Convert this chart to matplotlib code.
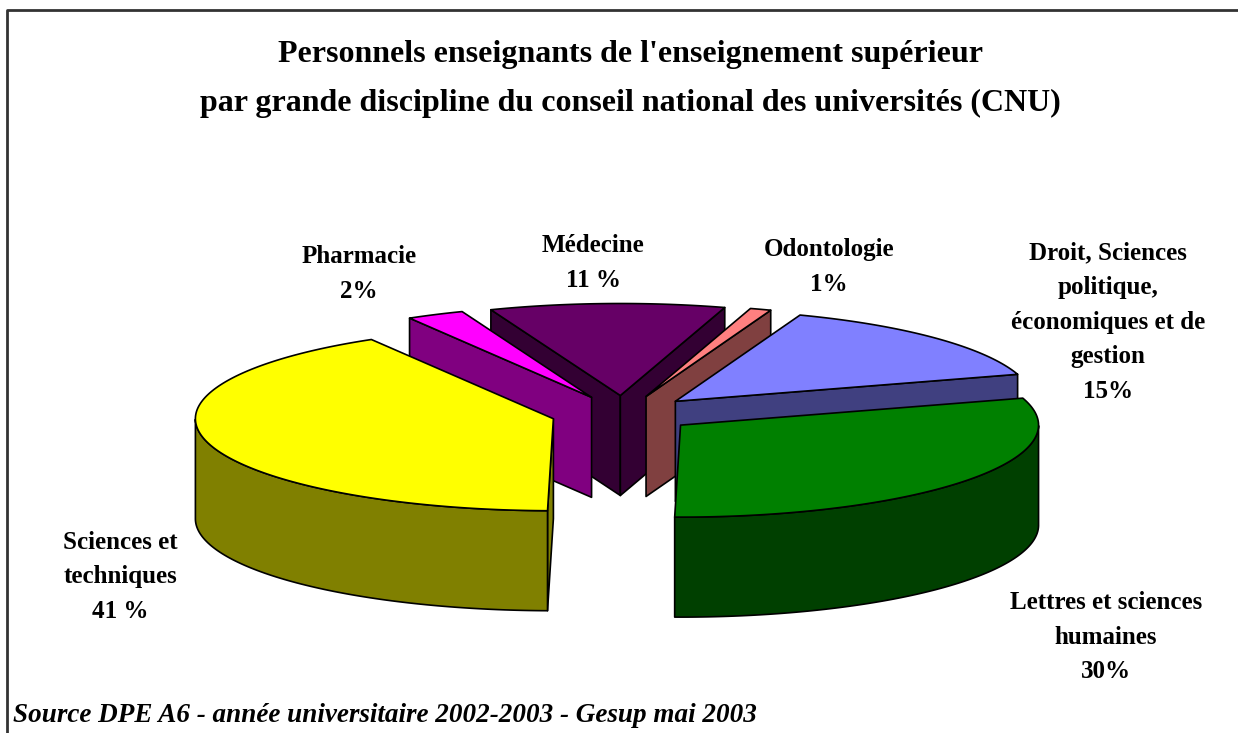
import numpy as np
import matplotlib
matplotlib.use('Agg')
import matplotlib.pyplot as plt

# slices, clockwise, starting from the top of the pie
# shares are read off the drawn angles, the labels carry the rounded ones
names = ['Médecine', 'Odontologie', 'Droit, Sciences\npolitique,\néconomiques et de\ngestion',
         'Lettres et sciences\nhumaines', 'Sciences et\ntechniques', 'Pharmacie']
shares = [10.6, 0.95, 14.6, 30, 41.25, 2.6]
pct_labels = ['11 %', '1%', '15%', '30%', '41 %', '2%']
top_colors = ['#660066', '#FF8080', '#8080FF', '#008000', '#FFFF00', '#FF00FF']
side_colors = ['#330033', '#804040', '#404080', '#004000', '#808000', '#800080']
label_pos = [(593, 263), (829, 267), (1108, 322), (1106, 637), (120, 577), (359, 274)]

title = "Personnels enseignants de l'enseignement supérieur\npar grande discipline du conseil national des universités (CNU)"
source = 'Source DPE A6 - année universitaire 2002-2003 - Gesup mai 2003'

# pie geometry in pixels
cx, cy = 623, 414
rx, ry = 358, 92
depth = 100
explode = 72
start = -21.2
serif = 'Liberation Serif'

fig = plt.figure(figsize=(12.38, 7.33), dpi=100)
ax = fig.add_axes([0, 0, 1, 1])
ax.set_xlim(0, 1238)
ax.set_ylim(733, 0)
ax.axis('off')

# frame: only top and left show in the picture
ax.plot([1238, 7, 7], [10, 10, 733], color='#333333', lw=2, zorder=1)


def vec(a):
    a = np.radians(a)
    return np.array([np.sin(a) * rx, -np.cos(a) * ry])


def draw_slice(a0, a1, top_c, side_c, z):
    mid = (a0 + a1) / 2
    apex = np.array([cx, cy]) + vec(mid) * explode / rx
    down = np.array([0, depth])
    m = vec(mid)
    kw = dict(edgecolor='black', lw=1.2, joinstyle='round', zorder=z)
    # cut faces first, the ones the viewer can see
    for a in (a0, a1):
        e = vec(a)
        if e[0] * (e[0] * m[1] - e[1] * m[0]) < 0:
            p = apex + e
            ax.fill(*np.array([apex, p, p + down, apex + down]).T, facecolor=side_c, **kw)
    # outer rim, lower half of the ellipse only
    arc = np.linspace(a0, a1, 150)
    front = arc[(arc > 90) & (arc < 270)]
    if len(front):
        rim = np.array([apex + vec(a) for a in front])
        ax.fill(*np.vstack([rim, (rim + down)[::-1]]).T, facecolor=side_c, **kw)
    edge = np.array([apex] + [apex + vec(a) for a in arc])
    ax.fill(*edge.T, facecolor=top_c, **kw)


angles = start + np.cumsum([0] + shares) * 3.6
# back slices first, the two big front ones last
order = [0, 5, 1, 2, 3, 4]
for z, i in enumerate(order):
    draw_slice(angles[i], angles[i + 1], top_colors[i], side_colors[i], 2 + z)

for name, pct, (x, y) in zip(names, pct_labels, label_pos):
    ax.text(x, y, name + '\n' + pct, ha='center', va='center', family=serif, weight='bold',
            fontsize=18, linespacing=1.65, zorder=20)

ax.text(630, 79, title, ha='center', va='center', family=serif, weight='bold',
        fontsize=23, linespacing=1.9, zorder=20)
ax.text(13, 715, source, ha='left', va='center', family=serif, weight='bold', style='italic',
        fontsize=19.5, zorder=20)

fig.savefig('out.png', dpi=100)
